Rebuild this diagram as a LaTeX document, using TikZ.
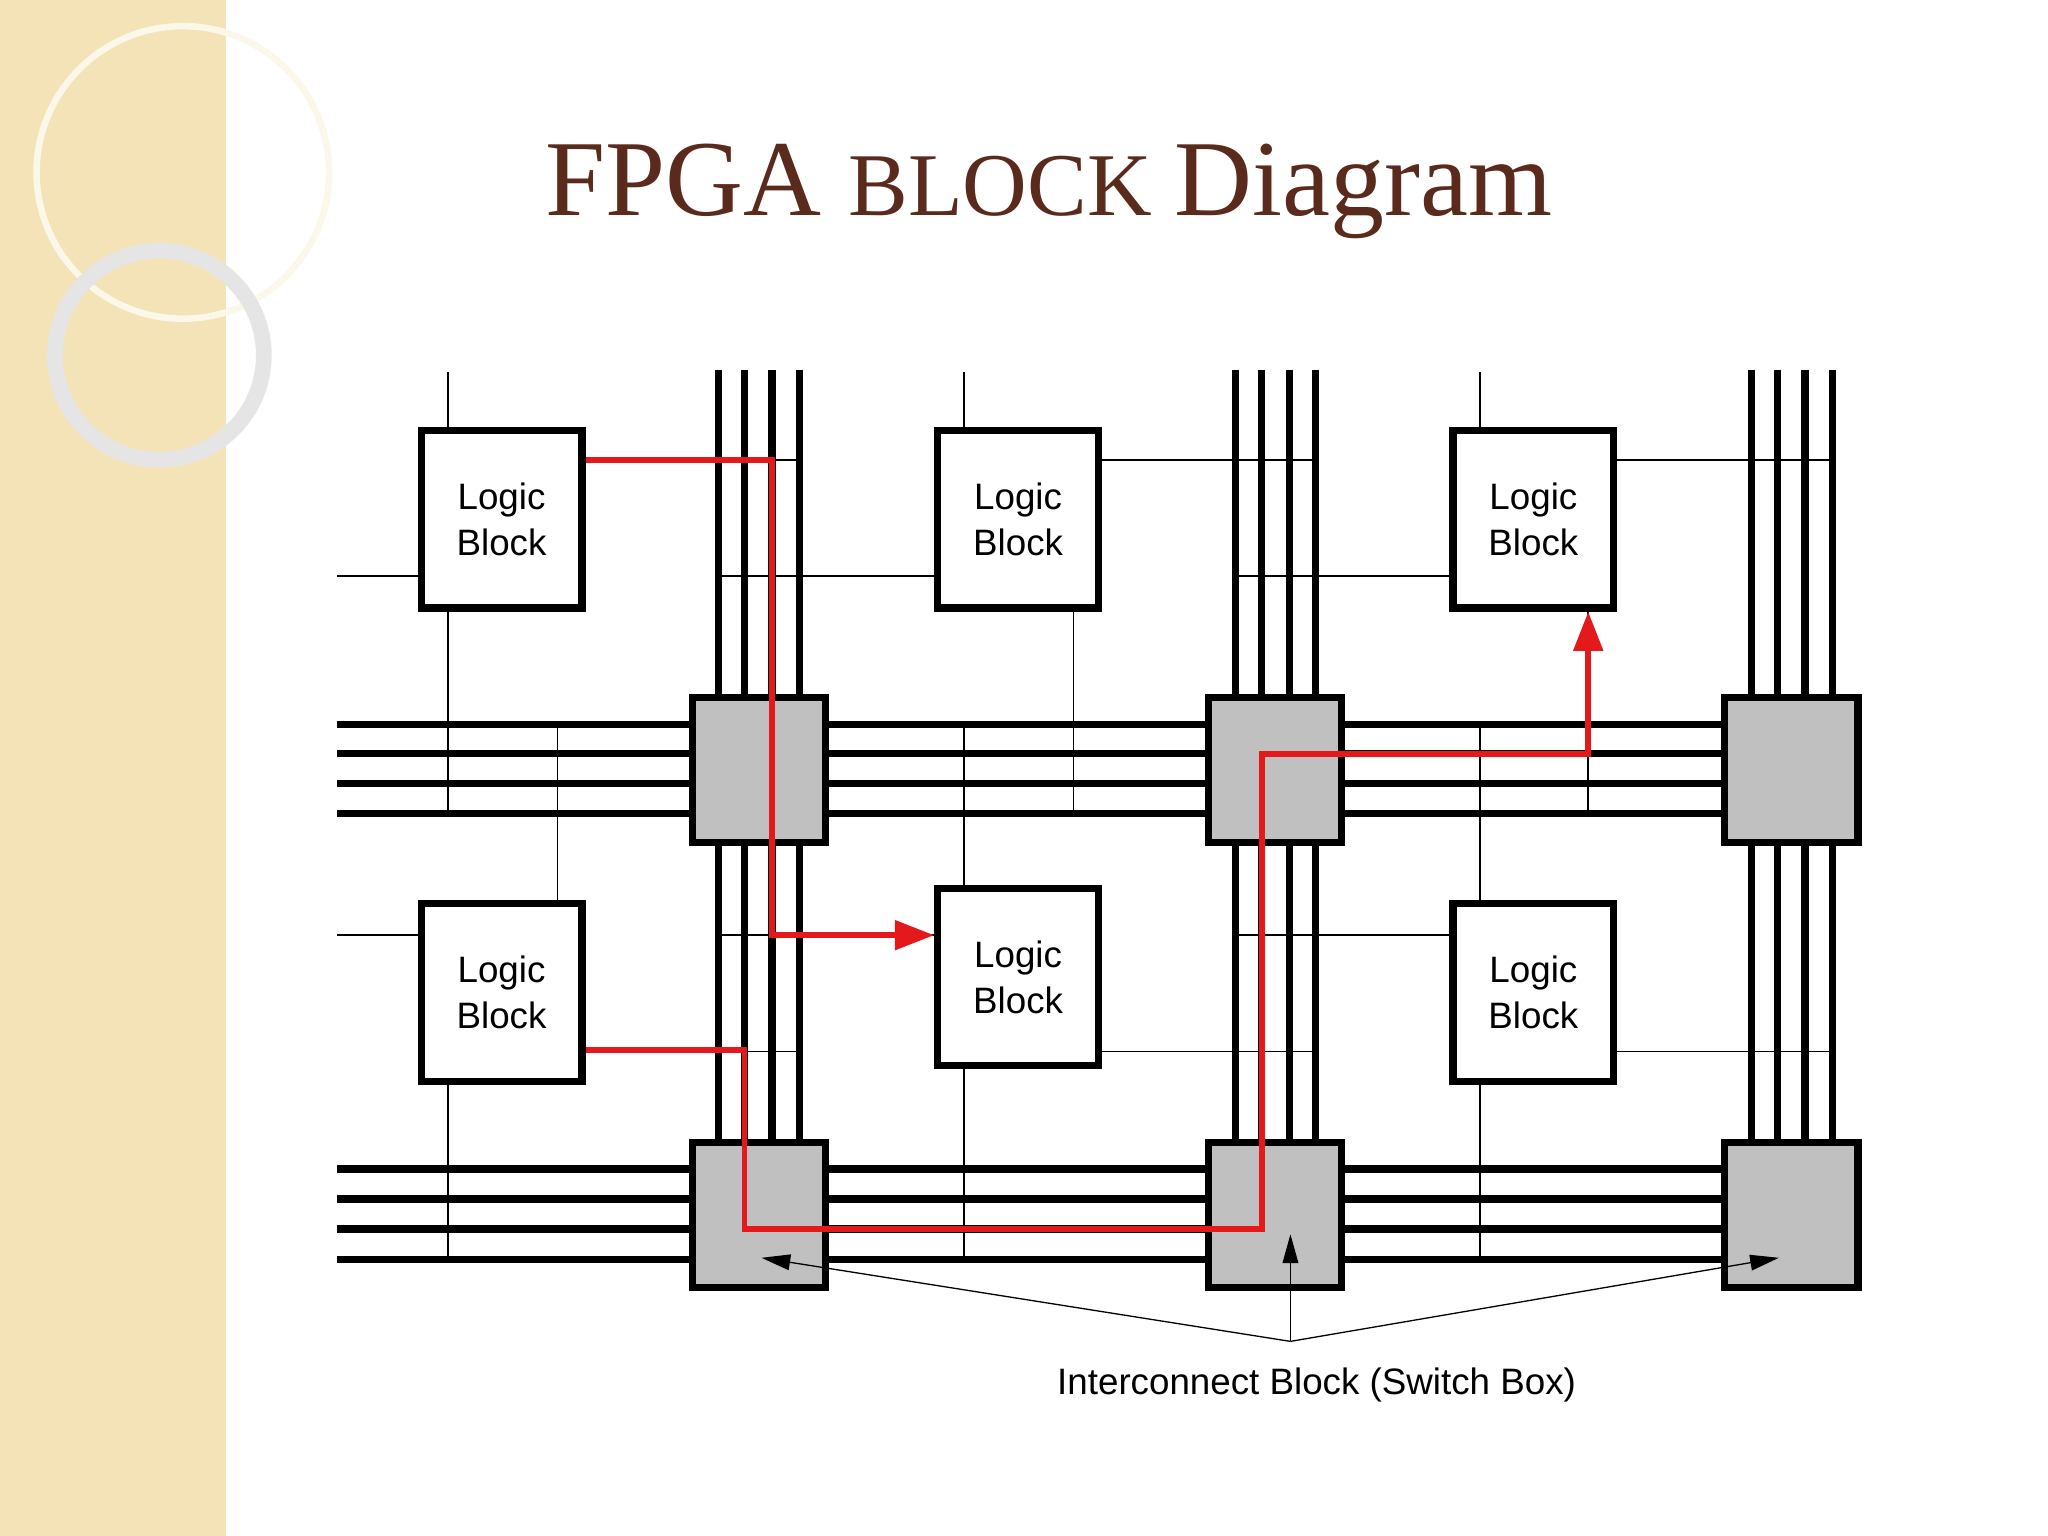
\documentclass[tikz,border=0pt]{standalone}
\usepackage{fontspec}
\setmainfont{Liberation Serif}
\setsansfont{Liberation Sans}
\usetikzlibrary{arrows.meta}
\definecolor{beige}{HTML}{F3E3B6}
\definecolor{titlebrown}{HTML}{5A2A1C}
\definecolor{boxgray}{HTML}{C0C0C0}
\definecolor{route}{HTML}{E3191B}
\begin{document}
\begin{tikzpicture}[x=0.01cm,y=-0.01cm,
  lb/.style={draw, line width=0.055cm, fill=white, minimum width=1.23cm, minimum height=1.36cm,
    inner sep=0pt, align=center, font=\sffamily\fontsize{8pt}{10pt}\selectfont},
  sb/.style={draw, line width=0.055cm, fill=boxgray, minimum width=1.02cm, minimum height=1.11cm, inner sep=0pt},
  bus/.style={line width=0.055cm},
  pin/.style={line width=0.012cm},
  red/.style={route, line width=0.045cm, -{Triangle[length=0.3cm,width=0.22cm]}},
  note/.style={line width=0.01cm, -{Triangle[length=0.22cm,width=0.12cm]}}]
\useasboundingbox (0,0) rectangle (1568,1176);
\fill[white] (0,0) rectangle (1568,1176);
% side strip and its rings
\fill[beige] (0,0) rectangle (173,1176);
\draw[white!70!beige, line width=0.05cm] (140,132) circle (112);
\draw[white!80!gray, line width=0.12cm] (122,272) circle (80);
% title
\node[titlebrown, anchor=base] (title) at (803,165)
  {\fontsize{23.5pt}{28pt}\selectfont FPGA\ \fontsize{19.5pt}{24pt}\selectfont BLOCK\ \fontsize{23.5pt}{28pt}\selectfont Diagram};
% vertical buses
\foreach \c in {550,570,591,612,946,966,987,1007,1341,1361,1382,1403}
  \draw[bus] (\c,283) -- (\c,988);
% horizontal buses
\foreach \r in {555,577,600,623,895,918,941,964}
  \draw[bus] (258,\r) -- (1418,\r);
% logic blocks
\node[lb] (lb1) at (384,397.5) {Logic\\Block};
\node[lb] (lb2) at (779.5,397.5) {Logic\\Block};
\node[lb] (lb3) at (1174,397.5) {Logic\\Block};
\node[lb] (lb4) at (384,760) {Logic\\Block};
\node[lb] (lb5) at (779.5,748) {Logic\\Block};
\node[lb] (lb6) at (1174,760) {Logic\\Block};
% block pins, row 1
\draw[pin] (lb1.north -| 343,0) -- (343,285);
\draw[pin] (lb2.north -| 738,0) -- (738,285);
\draw[pin] (lb3.north -| 1133,0) -- (1133,285);
\draw[pin] (lb1.south -| 343,0) -- (343,623);
\draw[pin] (lb2.south -| 822,0) -- (822,623);
\draw[pin] (lb3.south -| 1216,0) -- (1216,623);
\draw[pin] (lb1.west |- 0,441) -- (258,441);
\draw[pin] (lb2.west |- 0,441) -- (550,441);
\draw[pin] (lb3.west |- 0,441) -- (946,441);
\draw[pin] (lb1.east |- 0,352) -- (612,352);
\draw[pin] (lb2.east |- 0,352) -- (1007,352);
\draw[pin] (lb3.east |- 0,352) -- (1403,352);
% block pins, row 2
\draw[pin] (lb4.north -| 427,0) -- (427,555);
\draw[pin] (lb5.north -| 738,0) -- (738,555);
\draw[pin] (lb6.north -| 1133,0) -- (1133,555);
\draw[pin] (lb4.south -| 343,0) -- (343,964);
\draw[pin] (lb5.south -| 738,0) -- (738,964);
\draw[pin] (lb6.south -| 1133,0) -- (1133,964);
\draw[pin] (lb4.west |- 0,716) -- (258,716);
\draw[pin] (lb5.west |- 0,716) -- (550,716);
\draw[pin] (lb6.west |- 0,716) -- (946,716);
\draw[pin] (lb4.east |- 0,805) -- (612,805);
\draw[pin] (lb5.east |- 0,805) -- (1007,805);
\draw[pin] (lb6.east |- 0,805) -- (1403,805);
% switch boxes
\node[sb] (sb11) at (581,589.5) {};
\node[sb] (sb12) at (976,589.5) {};
\node[sb] (sb13) at (1371.5,589.5) {};
\node[sb] (sb21) at (581,930.5) {};
\node[sb] (sb22) at (976,930.5) {};
\node[sb] (sb23) at (1371.5,930.5) {};
% routed paths
\draw[red] (lb1.east |- 0,352) -- (591,352) -- (591,716) -- (lb5.west |- 0,716);
\draw[red] (lb4.east |- 0,804) -- (570,804) -- (570,941) -- (966,941) -- (966,577) -- (1216,577) -- (lb3.south -| 1216,0);
% annotation
\node[font=\sffamily\fontsize{8pt}{10pt}\selectfont, anchor=north] (lbl) at (1008,1035) {Interconnect Block (Switch Box)};
\coordinate (fork) at (988,1027);
\draw[note] (fork) -- (583,963);
\draw[note] (fork) -- (988,945);
\draw[note] (fork) -- (1362,963);
\end{tikzpicture}
\end{document}
